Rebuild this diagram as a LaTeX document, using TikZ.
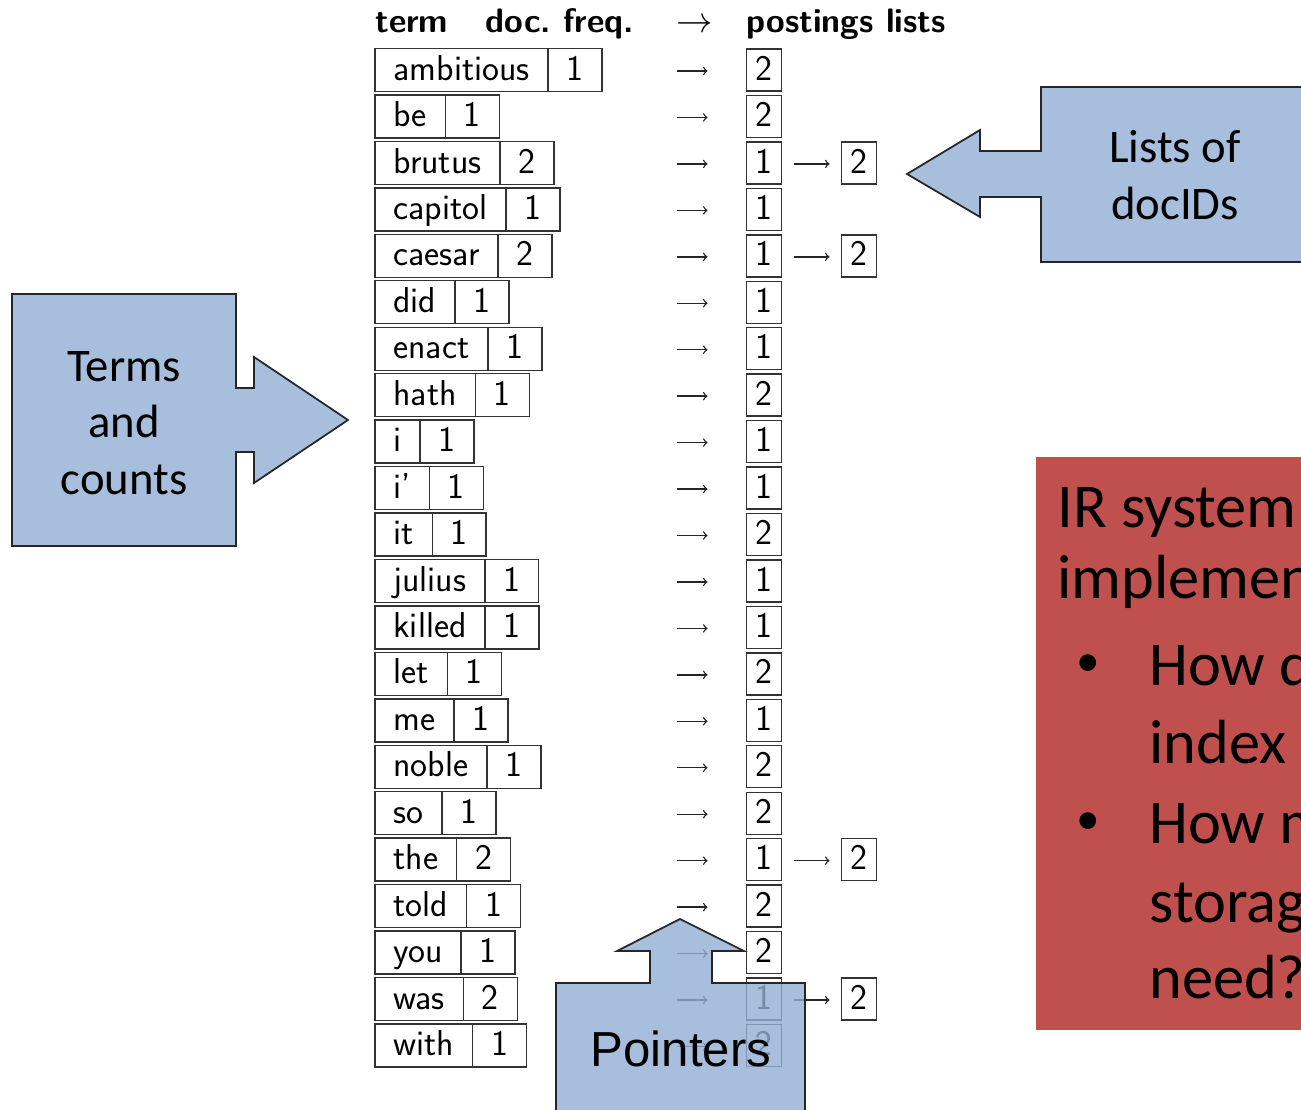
\documentclass[tikz,border=0pt]{standalone}
\usepackage{fontspec}
\usepackage{tikz}
\usetikzlibrary{positioning}

\newfontfamily\calibfont{Carlito}
\newfontfamily\arialfont{Liberation Sans}
\definecolor{calloutblue}{RGB}{145,174,211}
\definecolor{notered}{RGB}{192,80,77}
\newcommand{\tabfont}{\sffamily\fontsize{20.5}{24}\selectfont}
\newcommand{\headfont}{\sffamily\fontsize{19.3}{23}\selectfont}

\tikzset{
  cell/.style={draw=black!80, line width=0.8pt, outer sep=0pt, inner xsep=0.37cm, inner ysep=0pt,
    minimum height=0.86cm, text height=14.9pt, text depth=3.4pt, font=\tabfont},
  postcell/.style={cell, inner xsep=0.18cm, minimum height=0.84cm},
  header/.style={anchor=base west, inner sep=0pt, font=\headfont\bfseries},
  pointer/.style={-to, line width=0.8pt, black!85},
  callout/.style={draw=black!85, line width=1pt, fill=calloutblue, fill opacity=0.8, line join=miter},
  calltext/.style={align=center, font=\calibfont\fontsize{26.6}{32}\selectfont},
  redtext/.style={anchor=base west, inner sep=0pt, font=\calibfont\fontsize{35.5}{42}\selectfont},
}

\begin{document}
\begin{tikzpicture}[x=0.02cm, y=-0.02cm]
\useasboundingbox (0,0) rectangle (1301,1109);
\clip (0,0) rectangle (1301,1109);

% header row
\node[header] (hterm) at (375,32) {term};
\node[header] (hfreq) at (485,32) {doc.\ freq.};
\node[header, font=\headfont] (harrow) at (676,32) {$\rightarrow$};
\node[header] (hpost) at (746,32) {postings lists};

% dictionary and postings
\foreach \term/\freq/\pa/\pb [count=\i] in {ambitious/1/2/0, be/1/2/0, brutus/2/1/2,
    capitol/1/1/0, caesar/2/1/2, did/1/1/0, enact/1/1/0, hath/1/2/0, i/1/1/0,
    i’/1/1/0, it/1/2/0, julius/1/1/0, killed/1/1/0, let/1/2/0, me/1/1/0,
    noble/1/2/0, so/1/2/0, the/2/1/2, told/1/2/0, you/1/2/0, was/2/1/2, with/1/2/0}{
  \pgfmathsetmacro{\y}{70+46.45*(\i-1)}
  \node[cell, anchor=west] (term\i) at (375,\y) {\term};
  \node[cell, right=0pt of term\i] (df\i) {\freq};
  \node[postcell] (post\i) at (764,\y) {\pa};
  \draw[pointer] ([xshift=-1.4cm,yshift=-0.02cm]post\i.west) -- ([xshift=-0.78cm,yshift=-0.02cm]post\i.west);
  \ifnum\pb>0
    \node[postcell] (postb\i) at (859,\y) {\pb};
    \draw[pointer, shorten <=0.26cm, shorten >=0.24cm] ([yshift=-0.02cm]post\i.east) -- ([yshift=-0.02cm]postb\i.west);
  \fi
}

% callouts
\path[callout] (12,294) -- (236,294) -- (236,388) -- (254,388) -- (254,357) -- (348,420)
  -- (254,483) -- (254,452) -- (236,452) -- (236,546) -- (12,546) -- cycle;
\node[calltext] (terms) at (124,423) {Terms\\and\\counts};

\path[callout] (1320,87) -- (1041,87) -- (1041,151) -- (980,151) -- (980,130) -- (907,174)
  -- (980,217) -- (980,197) -- (1041,197) -- (1041,262) -- (1320,262) -- cycle;
\node[calltext] (lists) at (1175,175) {Lists of\\docIDs};

\path[callout] (556,1130) -- (556,983) -- (650,983) -- (650,951) -- (617,951) -- (680,919)
  -- (744,951) -- (712,951) -- (712,983) -- (805,983) -- (805,1130) -- cycle;
\node[font=\arialfont\fontsize{28}{32}\selectfont] (pointers) at (681,1049) {Pointers};

% question box
\fill[notered] (1036,457) rectangle (1330,1030);
\node[redtext] (ir1) at (1057,527) {IR system};
\node[redtext] (ir2) at (1057,598) {implementation};
\node[redtext, font=\arialfont\fontsize{35}{42}\selectfont] (bul1) at (1077,683) {•};
\node[redtext] (q1a) at (1149,685) {How do};
\node[redtext] (q1b) at (1149,763) {index};
\node[redtext, font=\arialfont\fontsize{35}{42}\selectfont] (bul2) at (1077,841) {•};
\node[redtext] (q2a) at (1149,843) {How much};
\node[redtext] (q2b) at (1149,922) {storage};
\node[redtext] (q2c) at (1149,998) {need?};
\end{tikzpicture}
\end{document}
